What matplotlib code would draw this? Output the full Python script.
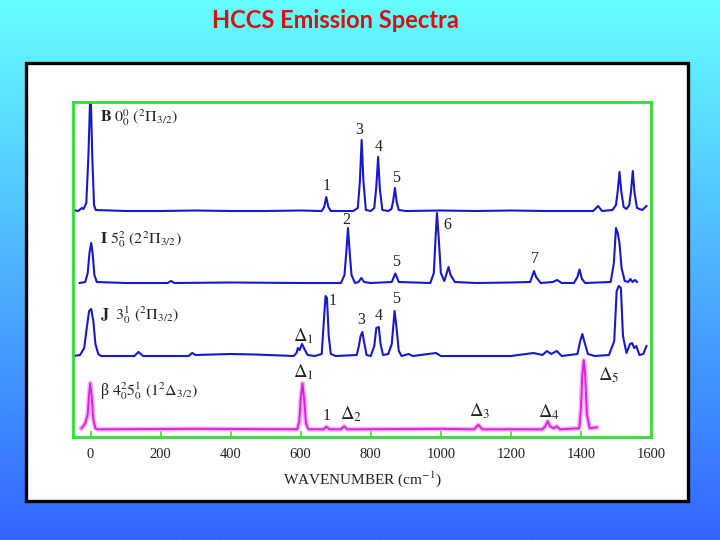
import numpy as np
import matplotlib
matplotlib.use("Agg")
import matplotlib.pyplot as plt
from matplotlib.patches import Rectangle

plt.rcParams['font.family'] = ['Liberation Serif', 'DejaVu Serif']
plt.rcParams['mathtext.fontset'] = 'stix'

# ---------------- data (wavenumber, intensity above each trace's baseline) ----
b_wn = [-50, -35, -25, -20, -12, -6, 0, 5, 10, 15, 100, 200, 300, 400, 500, 600,
        660, 667, 673, 679, 686, 750, 763, 769, 774, 779, 786, 800, 810, 816, 821,
        826, 833, 850, 859, 864, 869, 874, 880, 900, 1000, 1100, 1200, 1300, 1400,
        1435, 1449, 1460, 1490, 1500, 1505, 1510, 1515, 1522, 1530, 1538, 1543,
        1548, 1553, 1560, 1575, 1587]
b_int = [1, 0, 3, 2, 8, 55, 125, 55, 6, 1, 0, 0, 0.5, 0, 0, 0.5,
         0, 4, 14, 4, 0, 0, 3, 30, 71, 30, 1, 0, 3, 25, 54,
         22, 1, 0, 2, 10, 23, 9, 1, 0, 0.5, 0, 0.5, 0, 0,
         0, 5, 0, 1, 6, 20, 39, 20, 4, 2, 6, 20,
         40, 18, 3, 1, 5]

i_wn = [-31, -15, -8, -3, 2, 6, 11, 18, 100, 220, 230, 240, 400, 600, 715, 725,
        730, 735, 740, 745, 755, 765, 773, 781, 800, 860, 870, 880, 970, 980, 985,
        989, 994, 1000, 1010, 1017, 1022, 1028, 1040, 1100, 1200, 1255, 1262, 1266,
        1272, 1285, 1320, 1332, 1345, 1380, 1390, 1396, 1403, 1412, 1485, 1494,
        1500, 1505, 1510, 1516, 1525, 1535, 1541, 1547, 1554, 1560]
i_int = [0, 1, 10, 30, 40, 30, 8, 1, 0, 0, 2, 0, 0.5, 0, 0, 8,
         30, 55, 30, 8, 0, 1, 5, 1, 0, 1, 9.5, 1, 0, 10, 45,
         70, 45, 10, 2, 10, 16, 8, 1, 0, 0.5, 1, 8, 12,
         6, 0, 1, 3, 0, 0, 6, 13.5, 4, 0, 1, 20,
         55, 50, 40, 15, 2, 1, 4, 1, 3, 1]

j_wn = [-48, -30, -18, -10, -4, 2, 8, 14, 22, 30, 125, 137, 150, 280, 290, 300,
        398, 470, 580, 588, 592, 597, 604, 612, 620, 640, 660, 667, 671, 675, 680,
        686, 700, 760, 766, 771, 776, 781, 788, 800, 810, 816, 823, 828, 835, 850,
        860, 868, 873, 880, 888, 908, 920, 986, 1000, 1200, 1265, 1290, 1303, 1315,
        1331, 1345, 1390, 1398, 1404, 1410, 1420, 1440, 1480, 1495, 1502, 1508,
        1514, 1520, 1530, 1540, 1546, 1552, 1558, 1567, 1578, 1587]
j_int = [0, 1, 8, 30, 45, 47, 35, 12, 2, 0, 0, 4, 0, 0, 3, 1,
         2, 1.5, 0, 3, 8, 6, 12, 6, 1, 0, 2, 40, 60, 58, 20,
         2, 0, 1, 10, 20, 24, 14, 1, 0, 10, 28, 29, 12, 1, 2,
         12, 45, 30, 5, 0, 2, 0, 3, 0, 0, 3, 1, 5, 2,
         5, 0, 2, 15, 22, 14, 2, 0, 1, 15, 65, 70,
         68, 20, 3, 12, 13, 8, 10, 1, 2, 10]

beta_wn = [-26, -15, -8, -4, -1, 3, 8, 14, 20, 300, 590, 596, 600, 605, 610, 615,
           622, 665, 673, 682, 715, 724, 733, 1000, 1095, 1107, 1118, 1290, 1298,
           1305, 1312, 1322, 1331, 1340, 1395, 1400, 1404, 1408, 1412, 1417, 1425, 1445]
beta_int = [1, 6, 15, 35, 46, 35, 10, 1, 0, 0.5, 0, 8, 30, 46, 30, 6,
            0, 0, 2.5, 0, 0, 3, 0, 0.5, 0, 4.5, 0, 0, 3,
            8, 3, 1, 3, 0, 1, 20, 55, 69, 55, 15, 1, 2]

x_ticks = [0, 200, 400, 600, 800, 1000, 1200, 1400, 1600]

# ---------------- figure ----------------
W, H = 720, 540
fig = plt.figure(figsize=(7.2, 5.4), dpi=100)

# gradient slide background
bg = fig.add_axes([0, 0, 1, 1], zorder=-10)
top = np.array([102, 255, 255]) / 255
bot = np.array([51, 102, 255]) / 255
t = np.linspace(0, 1, 256)[:, None]
grad = (top[None, :] * (1 - t) + bot[None, :] * t)[:, None, :]
bg.imshow(grad, aspect='auto', extent=[0, 1, 0, 1])
bg.set_axis_off()

# white panel with black border
fig.patches.append(Rectangle((26 / W, 1 - 501 / H), (688 - 26) / W, (501 - 63) / H,
                             transform=fig.transFigure, facecolor='white',
                             edgecolor='black', linewidth=2.4, zorder=-5))

# title
fig.text(335 / W, 1 - 20 / H, 'HCCS Emission Spectra', color='#D81010',
         fontsize=17, fontfamily='Lato', fontweight='bold', ha='center', va='center')

ax = fig.add_axes([73 / W, 1 - 437 / H, (651 - 73) / W, (437 - 101.7) / H])
ax.set_xlim(-50, 1600)
ax.set_ylim(0, 335.3)

offsets = {'B': 226, 'I': 154, 'J': 81, 'beta': 7.7}
blue = '#1818CC'
ax.plot(b_wn, np.array(b_int) + offsets['B'], color=blue, lw=1.5)
ax.plot(i_wn, np.array(i_int) + offsets['I'], color=blue, lw=1.5)
ax.plot(j_wn, np.array(j_int) + offsets['J'], color=blue, lw=1.5)
ax.plot(beta_wn, np.array(beta_int) + offsets['beta'], color='#F5A0F5', lw=3.5, alpha=0.8)
ax.plot(beta_wn, np.array(beta_int) + offsets['beta'], color='#E020E0', lw=1.4)

for s in ax.spines.values():
    s.set_color('#33DD33')
    s.set_linewidth(2)
ax.set_xticks(x_ticks)
ax.set_yticks([])
ax.tick_params(axis='x', direction='in', color='#33DD33', length=4, width=1.2,
               labelsize=10.5, pad=8, labelcolor='#222222')
ax.set_xlabel('WAVENUMBER (cm$^{-1}$)', fontsize=11, labelpad=6, color='#222222')

fs = 11.5
def lab(x, y, s, size=fs):
    ax.text(x, y, s, fontsize=size, ha='center', va='center', color='#222222')

ds = 13.5
# trace B labels
lab(673, 251, '1'); lab(768, 307, '3'); lab(822, 290, '4'); lab(871, 259, '5')
# trace I labels
lab(731, 217, '2'); lab(871, 175, '5'); lab(1019, 212, '6'); lab(1269, 178, '7')
# trace J labels
lab(608, 101, r'$\Delta_1$', ds); lab(691, 136, '1'); lab(774, 117, '3')
lab(822, 121, '4'); lab(871, 138, '5')
# trace beta labels
lab(608, 65, r'$\Delta_1$', ds); lab(674, 21, '1'); lab(745, 23, r'$\Delta_2$', ds)
lab(1112, 26, r'$\Delta_3$', ds); lab(1308, 25, r'$\Delta_4$', ds); lab(1479, 62, r'$\Delta_5$', ds)

# trace names
nk = dict(fontsize=11.5, ha='left', va='center', color='#222222')
ax.text(28, 319, r'$\mathbf{B}\ 0_0^0\ (^2\Pi_{3/2})$', **nk)
ax.text(28, 197, r'$\mathbf{I}\ 5_0^2\ (2^2\Pi_{3/2})$', **nk)
ax.text(28, 122, r'$\mathbf{J}\ \ 3_0^1\ (^2\Pi_{3/2})$', **nk)
ax.text(28, 46, r'β $4_0^2 5_0^1\ (1^2\Delta_{3/2})$', **nk)

fig.savefig('out.png', dpi=100)
